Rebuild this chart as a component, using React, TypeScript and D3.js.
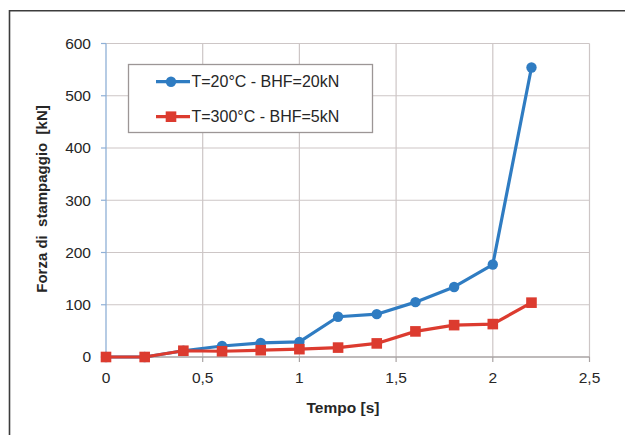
import React from 'react';
import * as d3 from 'd3';

// Time steps [s]
const TIMES = [0, 0.2, 0.4, 0.6, 0.8, 1.0, 1.2, 1.4, 1.6, 1.8, 2.0, 2.2];
// Forming force [kN]
const FORCE_20C = [0, 0, 12, 21, 27, 29, 77, 82, 105, 134, 177, 554];
const FORCE_300C = [0, 0, 12, 11, 13, 15, 18, 26, 49, 61, 63, 104];

const X_TICKS = [0, 0.5, 1, 1.5, 2, 2.5];
const X_TICK_LABELS = ['0', '0,5', '1', '1,5', '2', '2,5'];
const Y_TICKS = [0, 100, 200, 300, 400, 500, 600];

const SERIES_LABELS = ['T=20°C - BHF=20kN', 'T=300°C - BHF=5kN'];
const BLUE = '#2f7cc2';
const RED = '#dc3b2f';

const W = 625;
const H = 435;
const FONT = 'Arial, "Liberation Sans", Helvetica, sans-serif';
const TEXT = '#262626';

export default function App() {
  const x = d3.scaleLinear().domain([0, 2.5]).range([106, 589.5]);
  const y = d3.scaleLinear().domain([0, 600]).range([357, 43.5]);

  const line = d3.line<[number, number]>()
    .x(d => x(d[0]))
    .y(d => y(d[1]));

  const blue = TIMES.map((t, i) => [t, FORCE_20C[i]] as [number, number]);
  const red = TIMES.map((t, i) => [t, FORCE_300C[i]] as [number, number]);

  const [x0, x1] = x.range();
  const [y0, y1] = y.range();

  // legend geometry
  const lg = { x: 128.5, y: 64.5, w: 244, h: 68 };
  const rows = [81.7, 116.7];

  return (
    <svg
      width={W}
      height={H}
      style={{ position: 'absolute', left: 0, top: 0, background: '#fff' }}
      fontFamily={FONT}
    >
      {/* outer frame: top + left only visible */}
      <path d={`M9.5,${H} V10.8 H${W}`} fill="none" stroke="#3c3c3c" strokeWidth={1.6} />

      {/* grid */}
      {Y_TICKS.filter(v => v > 0).map(v => (
        <line key={`gy${v}`} x1={x0} x2={x1} y1={y(v)} y2={y(v)} stroke="#cdc6c6" strokeWidth={1.2} />
      ))}
      {X_TICKS.filter(v => v > 0).map(v => (
        <line key={`gx${v}`} x1={x(v)} x2={x(v)} y1={y1} y2={y0} stroke="#cdc6c6" strokeWidth={1.2} />
      ))}

      {/* axes */}
      <line x1={x0} x2={x0} y1={y1} y2={y0} stroke="#8fb0d6" strokeWidth={1.3} />
      {Y_TICKS.map(v => (
        <line key={`ty${v}`} x1={x0 - 5} x2={x0} y1={y(v)} y2={y(v)} stroke="#8fb0d6" strokeWidth={1.2} />
      ))}
      <line x1={x0} x2={x1} y1={y0} y2={y0} stroke="#a9a3a3" strokeWidth={1.3} />
      {X_TICKS.map(v => (
        <line key={`tx${v}`} x1={x(v)} x2={x(v)} y1={y0} y2={y0 + 5} stroke="#a9a3a3" strokeWidth={1.2} />
      ))}

      {/* tick labels */}
      {Y_TICKS.map(v => (
        <text key={`ly${v}`} x={91} y={y(v)} dy="0.35em" textAnchor="end" fontSize={15.5} fill={TEXT}>
          {v}
        </text>
      ))}
      {X_TICKS.map((v, i) => (
        <text key={`lx${v}`} x={x(v)} y={378} dy="0.35em" textAnchor="middle" fontSize={15.5} fill={TEXT}>
          {X_TICK_LABELS[i]}
        </text>
      ))}

      {/* axis titles */}
      <text x={343} y={408} dy="0.35em" textAnchor="middle" fontSize={15.5} fontWeight="bold" fill={TEXT}>
        Tempo [s]
      </text>
      <text
        transform="translate(42,199) rotate(-90)"
        textAnchor="middle"
        dy="0.35em"
        fontSize={15}
        fontWeight="bold"
        fill={TEXT}
        style={{ whiteSpace: 'pre' }}
      >
        {'Forza di  stampaggio  [kN]'}
      </text>

      {/* series */}
      <path d={line(blue) ?? ''} fill="none" stroke={BLUE} strokeWidth={3.2} strokeLinejoin="round" />
      {blue.map((d, i) => (
        <circle key={`b${i}`} cx={x(d[0])} cy={y(d[1])} r={5.2} fill={BLUE} />
      ))}
      <path d={line(red) ?? ''} fill="none" stroke={RED} strokeWidth={3.2} strokeLinejoin="round" />
      {red.map((d, i) => (
        <rect key={`r${i}`} x={x(d[0]) - 5.3} y={y(d[1]) - 5.3} width={10.6} height={10.6} fill={RED} />
      ))}

      {/* legend */}
      <rect x={lg.x} y={lg.y} width={lg.w} height={lg.h} fill="#fff" stroke="#9c9696" strokeWidth={1.3} />
      {[BLUE, RED].map((c, i) => (
        <g key={`lg${i}`}>
          <line x1={156} x2={190} y1={rows[i]} y2={rows[i]} stroke={c} strokeWidth={3.2} />
          {i === 0 ? (
            <circle cx={171} cy={rows[i]} r={5.2} fill={c} />
          ) : (
            <rect x={171 - 5.3} y={rows[i] - 5.3} width={10.6} height={10.6} fill={c} />
          )}
          <text x={191.5} y={rows[i]} dy="0.36em" fontSize={16} fill={TEXT}>
            {SERIES_LABELS[i]}
          </text>
        </g>
      ))}
    </svg>
  );
}
